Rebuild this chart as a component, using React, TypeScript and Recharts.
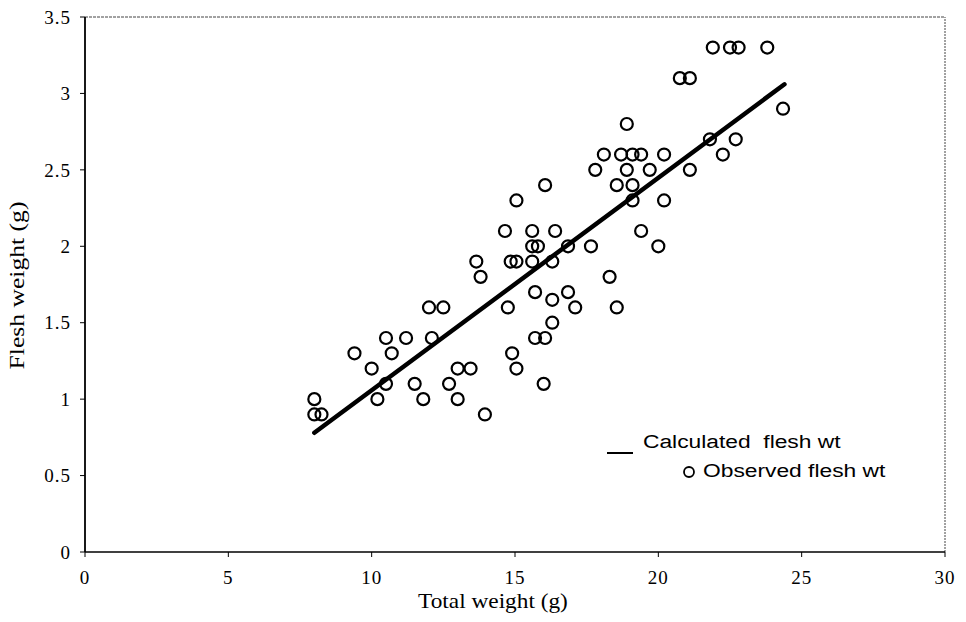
import React from "react";
import {
  ScatterChart,
  Scatter,
  XAxis,
  YAxis,
  ReferenceLine,
  Label,
} from "recharts";

const totalWeight = [
  8.0, 8.0, 8.25, 9.4, 10.0, 10.2, 10.5, 10.5, 10.7, 11.2, 11.5, 11.8, 12.0, 12.1,
  12.5, 12.7, 13.0, 13.0, 13.45, 13.65, 13.8, 13.95, 14.65, 14.75, 14.85, 14.9,
  15.05, 15.05, 15.05, 15.6, 15.6, 15.6, 15.7, 15.7, 15.8, 16.05, 16.05, 16.0,
  16.3, 16.3, 16.3, 16.4, 16.85, 16.85, 17.1, 17.65, 17.8, 18.1, 18.3, 18.55,
  18.55, 18.7, 18.9, 18.9, 19.1, 19.1, 19.1, 19.4, 19.4, 19.7, 20.0, 20.2, 20.2,
  20.75, 21.1, 21.1, 21.8, 21.9, 22.25, 22.5, 22.8, 22.7, 23.8, 24.35,
];

const fleshWeight = [
  1.0, 0.9, 0.9, 1.3, 1.2, 1.0, 1.4, 1.1, 1.3, 1.4, 1.1, 1.0, 1.6, 1.4,
  1.6, 1.1, 1.2, 1.0, 1.2, 1.9, 1.8, 0.9, 2.1, 1.6, 1.9, 1.3,
  1.9, 2.3, 1.2, 2.1, 2.0, 1.9, 1.7, 1.4, 2.0, 2.4, 1.4, 1.1,
  1.9, 1.65, 1.5, 2.1, 2.0, 1.7, 1.6, 2.0, 2.5, 2.6, 1.8, 1.6,
  2.4, 2.6, 2.8, 2.5, 2.6, 2.4, 2.3, 2.6, 2.1, 2.5, 2.0, 2.6, 2.3,
  3.1, 3.1, 2.5, 2.7, 3.3, 2.6, 3.3, 3.3, 2.7, 3.3, 2.9,
];

// fitted line end points
const fitX = [8.0, 24.4];
const fitY = [0.78, 3.06];

const xTicks = [0, 5, 10, 15, 20, 25, 30];
const yTicks = [0, 0.5, 1, 1.5, 2, 2.5, 3, 3.5];

const legendNames = ["Calculated  flesh wt", "Observed flesh wt"];

const observed = totalWeight.map((x, i) => ({ x, y: fleshWeight[i] }));
const calculated = fitX.map((x, i) => ({ x, y: fitY[i] }));

const serif = "'Liberation Serif', 'Times New Roman', serif";
const sans = "'Liberation Sans', Arial, sans-serif";

const RingDot = (props: any) => {
  const { cx, cy } = props;
  if (cx == null || cy == null) return null;
  return <circle cx={cx} cy={cy} r={6} fill="none" stroke="#000" strokeWidth={2.2} />;
};

const tickStyle = { fontFamily: serif, fontSize: 19, fill: "#000", letterSpacing: 1 };

// the scanned original has slightly stretched lettering
const XTitle = (props: any) => {
  const vb = props.viewBox || {};
  const cx = vb.x + vb.width / 2 - 22;
  const by = vb.y + vb.height - 6;
  return (
    <text
      transform={`translate(${cx},${by}) scale(1.11,1)`}
      textAnchor="middle"
      fontFamily={serif}
      fontSize={21}
      fill="#000"
    >
      Total weight (g)
    </text>
  );
};

const YTitle = (props: any) => {
  const vb = props.viewBox || {};
  const cy = vb.y + vb.height / 2 + 1;
  return (
    <text
      transform={`translate(24,${cy}) rotate(-90) scale(1.22,1)`}
      textAnchor="middle"
      fontFamily={serif}
      fontSize={21}
      fill="#000"
    >
      Flesh weight (g)
    </text>
  );
};

export default function App() {
  return (
    <div style={{ position: "absolute", left: 0, top: 0, width: 966, height: 622, background: "#fff" }}>
      <ScatterChart width={966} height={622} margin={{ top: 17, right: 21, left: 5, bottom: 8 }}>
        <XAxis
          type="number"
          dataKey="x"
          domain={[0, 30]}
          ticks={xTicks}
          tick={tickStyle}
          tickLine={{ stroke: "#000" }}
          axisLine={{ stroke: "#000", strokeWidth: 1.5 }}
          tickSize={5}
          tickMargin={14}
          height={62}
        >
          <Label content={XTitle} />
        </XAxis>
        <YAxis
          type="number"
          dataKey="y"
          domain={[0, 3.5]}
          ticks={yTicks}
          tick={tickStyle}
          tickLine={{ stroke: "#000" }}
          axisLine={{ stroke: "#000", strokeWidth: 1.8 }}
          tickSize={5}
          tickMargin={9}
          width={80}
        >
          <Label content={YTitle} />
        </YAxis>
        <ReferenceLine y={3.5} stroke="#444" strokeWidth={1} strokeDasharray="3 1" />
        <ReferenceLine x={30} stroke="#444" strokeWidth={1} strokeDasharray="2 1" />
        <Scatter
          data={calculated}
          line={{ stroke: "#000", strokeWidth: 4.5, strokeLinecap: "round" }}
          shape={() => null}
          isAnimationActive={false}
        />
        <Scatter data={observed} shape={RingDot} isAnimationActive={false} />
      </ScatterChart>
      <svg width={966} height={622} style={{ position: "absolute", left: 0, top: 0, pointerEvents: "none" }}>
        <line x1={607} y1={453} x2={633} y2={453} stroke="#000" strokeWidth={2} />
        <text
          transform="translate(643,448) scale(1.2,1)"
          fontFamily={sans}
          fontSize={19}
          fill="#000"
          style={{ whiteSpace: "pre" }}
        >
          {legendNames[0]}
        </text>
        <circle cx={689} cy={472} r={5} fill="none" stroke="#000" strokeWidth={1.8} />
        <text transform="translate(703,477) scale(1.2,1)" fontFamily={sans} fontSize={19} fill="#000">
          {legendNames[1]}
        </text>
      </svg>
    </div>
  );
}
